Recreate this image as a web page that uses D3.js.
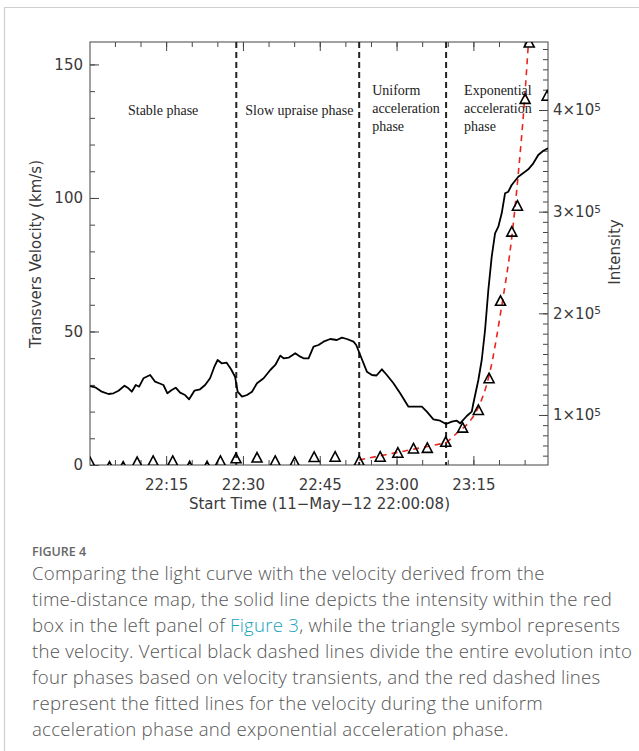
<!DOCTYPE html>
<html>
<head>
<meta charset="utf-8">
<script src="https://cdn.jsdelivr.net/npm/d3@7"></script>
<style>
  html, body { margin: 0; padding: 0; background: #fff; }
  svg { display: block; }
</style>
</head>
<body>
<svg id="fig" width="639" height="751"></svg>
<script>
// ---------- data (time in minutes after 22:00:00 UT, 2012-05-11) ----------
const intensityTime = [0.13, 1.15, 2.44, 3.74, 4.72, 5.70, 6.87, 7.65, 8.29, 9.07, 9.73, 10.57, 11.88, 12.85,
  13.63, 14.47, 15.25, 16.09, 16.87, 17.73, 18.70, 19.49, 20.52, 21.63, 22.61, 23.58, 24.42, 25.06, 25.84,
  26.82, 27.68, 28.46, 28.96, 29.82, 30.80, 31.77, 32.75, 34.04, 35.34, 36.32, 37.29, 37.94, 38.91, 40.22,
  41.19, 41.84, 42.81, 43.79, 44.76, 45.74, 47.05, 48.35, 49.33, 50.30, 51.59, 52.12, 52.90, 54.20, 55.18,
  56.08, 57.13, 58.10, 59.39, 60.70, 62.32, 63.62, 64.93, 65.91, 67.19, 68.50, 69.67, 70.78, 71.76, 72.40,
  73.71, 74.68, 75.00, 75.97, 76.63, 77.28, 77.92, 78.58, 79.23, 79.87, 80.53, 81.18, 81.82, 82.48, 83.77,
  85.08, 85.72, 86.70, 87.67, 88.65, 89.57];
const intensity = [128500, 127250, 122900, 120650, 121350, 123900, 128800, 126250, 122900, 129500, 127850,
  136100, 139350, 132750, 131200, 129500, 121350, 124600, 126850, 121950, 119650, 115450, 123900, 125300,
  129500, 136100, 147500, 154100, 150850, 151450, 144950, 137650, 122900, 118000, 119650, 122900, 131200,
  136100, 144250, 149200, 158350, 155750, 156350, 160700, 157350, 155750, 155750, 167200, 168850, 172100,
  174750, 173750, 176050, 174750, 172100, 168850, 159000, 142600, 139350, 138850, 144950, 139350, 131200,
  121350, 108150, 108150, 108150, 103250, 95750, 94400, 91150, 93400, 94400, 91850, 99000, 103250, 111500,
  134400, 154100, 183600, 222950, 255700, 278700, 285200, 298400, 318050, 319650, 326250, 334400, 339300,
  341650, 347550, 355750, 359950, 362300];

const velocityTime = [0.13, 3.94, 6.61, 9.34, 12.46, 16.29, 19.60, 23.00, 25.60, 28.65, 32.75, 36.30, 40.10,
  43.90, 48.00, 52.70, 56.80, 60.25, 63.30, 66.00, 69.60, 72.90, 75.97, 78.06, 80.30, 82.50, 83.60, 85.10,
  85.90, 89.40];
const velocity = [1.1, -0.6, -0.6, 1.1, 1.5, 1.5, -0.5, -0.5, 1.5, 2.5, 2.8, 1.5, 1.1, 3.0, 3.1, 1.5, 3.1,
  4.6, 6.2, 6.4, 8.7, 14.0, 20.6, 32.5, 61.5, 87.4, 97.1, 137.1, 158.2, 138.3];

// fitted velocity: uniform acceleration, then exponential acceleration
const fitUniformTime = [52.70, 69.67];
const fitUniform = [1.9, 8.3];
const fitExpTime = [69.67, 71.82, 74.35, 75.72, 78.25, 80.40, 82.54, 83.91, 84.88, 85.76, 86.10];
const fitExp = [8.3, 12.0, 16.5, 20.6, 35.0, 58.0, 86.0, 112.0, 134.0, 158.4, 168.0];

const phaseBoundaryTime = [28.70, 52.70, 69.67];
const phaseNames = [["Stable phase"], ["Slow upraise phase"],
  ["Uniform", "acceleration", "phase"], ["Exponential", "acceleration", "phase"]];

const timeTicks = [15, 30, 45, 60, 75];
const timeTickLabels = ["22:15", "22:30", "22:45", "23:00", "23:15"];
const timeMinorTicks = d3.range(5, 90, 5);
const velocityTicks = [0, 50, 100, 150];
const velocityMinorTicks = d3.range(0, 160, 10);
const intensityTicks = [100000, 200000, 300000, 400000];
const intensityMinorTicks = d3.range(60000, 470000, 10000);

const captionTitle = "FIGURE 4";
const captionLines = [
  ["Comparing the light curve with the velocity derived from the"],
  ["time-distance map, the solid line depicts the intensity within the red"],
  ["box in the left panel of ", {link: "Figure 3"}, ", while the triangle symbol represents"],
  ["the velocity. Vertical black dashed lines divide the entire evolution into"],
  ["four phases based on velocity transients, and the red dashed lines"],
  ["represent the fitted lines for the velocity during the uniform"],
  ["acceleration phase and exponential acceleration phase."]
];

// ---------- layout ----------
const plot = {left: 90, top: 42, right: 548, bottom: 465};
const base = Date.UTC(2012, 4, 11, 22, 0, 0);
const toDate = m => new Date(base + m * 60000);

const svg = d3.select("#fig");

// card edges
svg.append("line").attr("x1", 4).attr("x2", 639).attr("y1", 7.5).attr("y2", 7.5)
  .attr("stroke", "#cfcfcf").attr("stroke-width", 1.2);
svg.append("line").attr("x1", 4.5).attr("x2", 4.5).attr("y1", 7).attr("y2", 751)
  .attr("stroke", "#cfcfcf").attr("stroke-width", 1.2);

const x = d3.scaleUtc().domain([toDate(8 / 60), toDate(89.57)]).range([plot.left, plot.right]);
const yV = d3.scaleLinear().domain([0, 158.4]).range([plot.bottom, plot.top]);
const yI = d3.scaleLinear().domain([50800, 466900]).range([plot.bottom, plot.top]);

const axisFont = "'DejaVu Sans', sans-serif";
const axisColor = "#444";

svg.append("defs").append("clipPath").attr("id", "plotClip")
  .append("rect").attr("x", plot.left).attr("y", plot.top)
  .attr("width", plot.right - plot.left).attr("height", plot.bottom - plot.top);

function styleAxis(g) {
  g.select(".domain").remove();
  g.selectAll(".tick line").attr("stroke", axisColor).attr("stroke-width", 1);
  g.selectAll(".tick text").attr("font-family", axisFont).attr("font-size", 15).attr("fill", "#3a3a3a");
}

// bottom axis
svg.append("g").attr("transform", `translate(0,${plot.bottom})`)
  .call(d3.axisBottom(x).tickValues(timeMinorTicks.map(toDate)).tickSizeInner(-5).tickSizeOuter(0).tickFormat(""))
  .call(styleAxis);
svg.append("g").attr("transform", `translate(0,${plot.bottom})`)
  .call(d3.axisBottom(x).tickValues(timeTicks.map(toDate)).tickSizeInner(-9).tickSizeOuter(0).tickPadding(14)
    .tickFormat((d, i) => timeTickLabels[i]))
  .call(styleAxis);
// top axis (ticks only)
svg.append("g").attr("transform", `translate(0,${plot.top})`)
  .call(d3.axisTop(x).tickValues(timeMinorTicks.map(toDate)).tickSizeInner(-5).tickSizeOuter(0).tickFormat(""))
  .call(styleAxis);
svg.append("g").attr("transform", `translate(0,${plot.top})`)
  .call(d3.axisTop(x).tickValues(timeTicks.map(toDate)).tickSizeInner(-9).tickSizeOuter(0).tickFormat(""))
  .call(styleAxis);

// left axis: velocity
svg.append("g").attr("transform", `translate(${plot.left},0)`)
  .call(d3.axisLeft(yV).tickValues(velocityMinorTicks).tickSizeInner(-5).tickSizeOuter(0).tickFormat(""))
  .call(styleAxis);
svg.append("g").attr("transform", `translate(${plot.left},0)`)
  .call(d3.axisLeft(yV).tickValues(velocityTicks).tickSizeInner(-9).tickSizeOuter(0).tickPadding(7)
    .tickFormat(d3.format("d")))
  .call(styleAxis);

// right axis: intensity
svg.append("g").attr("transform", `translate(${plot.right},0)`)
  .call(d3.axisRight(yI).tickValues(intensityMinorTicks).tickSizeInner(-5).tickSizeOuter(0).tickFormat(""))
  .call(styleAxis);
const rightAxis = svg.append("g").attr("transform", `translate(${plot.right},0)`)
  .call(d3.axisRight(yI).tickValues(intensityTicks).tickSizeInner(-9).tickSizeOuter(0).tickPadding(5)
    .tickFormat(d => d))
  .call(styleAxis);
rightAxis.selectAll(".tick text").each(function (d) {
  const t = d3.select(this).text(null);
  t.append("tspan").text(`${d / 1e5}×10`);
  t.append("tspan").attr("dy", "-0.42em").attr("font-size", 10.5).text("5");
});

// frame
svg.append("rect").attr("x", plot.left).attr("y", plot.top)
  .attr("width", plot.right - plot.left).attr("height", plot.bottom - plot.top)
  .attr("fill", "none").attr("stroke", "#555").attr("stroke-width", 1.1);

// axis titles
svg.append("text").attr("transform", `translate(41,254) rotate(-90)`).attr("text-anchor", "middle")
  .attr("font-family", axisFont).attr("font-size", 15).attr("fill", "#3a3a3a")
  .text("Transvers Velocity (km/s)");
svg.append("text").attr("transform", `translate(620,252) rotate(-90)`).attr("text-anchor", "middle")
  .attr("font-family", axisFont).attr("font-size", 15).attr("fill", "#3a3a3a")
  .text("Intensity");
svg.append("text").attr("x", 319.5).attr("y", 509).attr("text-anchor", "middle")
  .attr("font-family", axisFont).attr("font-size", 15).attr("fill", "#3a3a3a")
  .text("Start Time (11\u2212May\u221212 22:00:08)");

const body = svg.append("g").attr("clip-path", "url(#plotClip)");

// phase boundaries
body.selectAll("line.phase").data(phaseBoundaryTime).join("line").attr("class", "phase")
  .attr("x1", d => x(toDate(d))).attr("x2", d => x(toDate(d)))
  .attr("y1", plot.top).attr("y2", plot.bottom)
  .attr("stroke", "#222").attr("stroke-width", 2).attr("stroke-dasharray", "6,4");

// intensity light curve
body.append("path")
  .datum(intensityTime.map((t, i) => [t, intensity[i]]))
  .attr("fill", "none").attr("stroke", "#000").attr("stroke-width", 1.8).attr("stroke-linejoin", "round")
  .attr("d", d3.line().x(d => x(toDate(d[0]))).y(d => yI(d[1])));

// fitted velocity curves
const fitLine = d3.line().x(d => x(toDate(d[0]))).y(d => yV(d[1]));
body.append("path")
  .datum(fitUniformTime.map((t, i) => [t, fitUniform[i]]))
  .attr("fill", "none").attr("stroke", "#e8251f").attr("stroke-width", 1.6).attr("stroke-dasharray", "6,5")
  .attr("d", fitLine);
body.append("path")
  .datum(fitExpTime.map((t, i) => [t, fitExp[i]]))
  .attr("fill", "none").attr("stroke", "#e8251f").attr("stroke-width", 1.6).attr("stroke-dasharray", "6,5")
  .attr("d", fitLine.curve(d3.curveMonotoneX));

// velocity triangles
const triangleType = {
  draw(ctx, size) {
    const r = Math.sqrt(size) / 2;
    ctx.moveTo(0, -r);
    ctx.lineTo(r, r * 0.9);
    ctx.lineTo(-r, r * 0.9);
    ctx.closePath();
  }
};
body.selectAll("path.vel").data(velocityTime.map((t, i) => [t, velocity[i]])).join("path")
  .attr("class", "vel")
  .attr("transform", d => `translate(${x(toDate(d[0]))},${yV(d[1])})`)
  .attr("d", d3.symbol().type(triangleType).size(100))
  .attr("fill", "none").attr("stroke", "#000").attr("stroke-width", 1.6).attr("stroke-linejoin", "miter");

// phase labels
const labelFont = "'Liberation Serif', 'Times New Roman', serif";
const edges = [plot.left, ...phaseBoundaryTime.map(t => x(toDate(t))), plot.right];
const labelPos = [
  {x: (edges[0] + edges[1]) / 2, anchor: "middle"},
  {x: edges[1] + 9, anchor: "start"},
  {x: edges[2] + 13, anchor: "start"},
  {x: edges[3] + 18, anchor: "start"}
];
phaseNames.forEach((lines, i) => {
  const t = svg.append("text").attr("font-family", labelFont).attr("font-size", 14).attr("fill", "#222")
    .attr("text-anchor", labelPos[i].anchor);
  const y0 = lines.length === 1 ? 115 : 95;
  lines.forEach((s, j) => t.append("tspan").attr("x", labelPos[i].x).attr("y", y0 + j * 18).text(s));
});

// caption
const capFont = "'Open Sans', 'Noto Sans', sans-serif";
svg.append("text").attr("x", 32).attr("y", 556).attr("font-family", capFont).attr("font-size", 12.5)
  .attr("font-weight", 600).attr("fill", "#666").text(captionTitle);
captionLines.forEach((parts, i) => {
  const t = svg.append("text").attr("x", 32).attr("y", 580 + i * 26)
    .attr("font-family", capFont).attr("font-size", 18.6).attr("font-weight", 300)
    .attr("letter-spacing", 0.25).attr("fill", "#555");
  parts.forEach(p => {
    if (typeof p === "string") t.append("tspan").text(p);
    else t.append("tspan").attr("fill", "#1aa3bd").text(p.link);
  });
});
</script>
</body>
</html>
